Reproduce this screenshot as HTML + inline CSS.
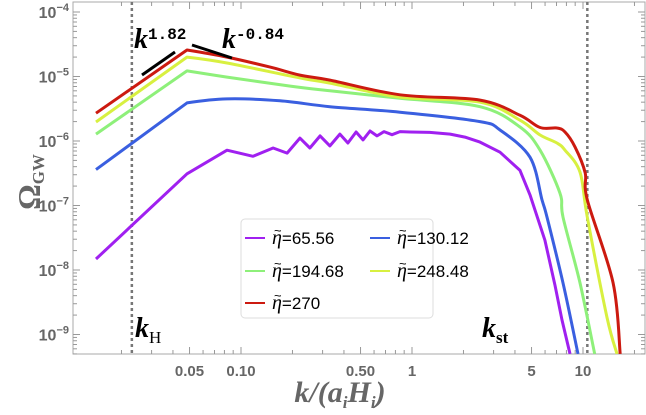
<!DOCTYPE html>
<html><head><meta charset="utf-8"><style>
body{margin:0;background:#fff}
svg{display:block}
</style></head><body>
<svg id="chart" width="646" height="415" xmlns="http://www.w3.org/2000/svg" font-family="Liberation Sans, sans-serif">
<rect width="646" height="415" fill="#fff"/>
<g id="axes"></g>
<g id="series"></g>
<g id="annot"></g>
</svg>
<script>
const xTickValues=[0.05,0.1,0.5,1,5,10];
const xTickLabels=["0.05","0.10","0.50","1","5","10"];
const yTickExps=[-4,-5,-6,-7,-8,-9];
const seriesNames=["η=65.56","η=130.12","η=194.68","η=248.48","η=270"];
const seriesColors=["#a020f0","#3a5fe0","#8ef07a","#d8f040","#cc1a10"];
const kPurple=[0.0142,0.0483,0.0828,0.1175,0.154,0.186,0.221,0.253,0.290,0.331,0.379,0.422,0.471,0.517,0.568,0.624,0.686,0.764,0.851,0.973,1.27,1.67,2.04,2.50,3.27,4.28,4.90,5.99,6.86,7.54,8.39];
const omegaPurple=[1.48e-8,3.1e-7,7.2e-7,5.8e-7,7.8e-7,6.5e-7,1.11e-6,7.8e-7,1.20e-6,8.4e-7,1.28e-6,9.3e-7,1.38e-6,1.04e-6,1.43e-6,1.2e-6,1.4e-6,1.25e-6,1.4e-6,1.38e-6,1.36e-6,1.28e-6,1.15e-6,9.6e-7,6.7e-7,3.5e-7,1.46e-7,2.9e-8,5.8e-9,1.68e-9,5.0e-10];
const kBlue=[0.0142,0.0483,0.0828,0.169,0.331,0.851,2.50,3.27,4.90,5.76,6.16,7.64,9.35];
const omegaBlue=[3.6e-7,3.9e-6,4.5e-6,4.2e-6,3.4e-6,2.8e-6,2.0e-6,1.48e-6,5.6e-7,1.22e-7,6.6e-8,6.3e-9,5.0e-10];
const kGreen=[0.0142,0.0483,0.0828,0.194,0.331,0.851,2.50,4.28,5.61,7.33,7.64,9.60,11.7];
const omegaGreen=[1.28e-6,1.22e-5,9.8e-6,7.1e-6,6.0e-6,4.6e-6,3.4e-6,1.65e-6,7.2e-7,1.56e-7,6.6e-8,6.3e-9,5.0e-10];
const kYellow=[0.0142,0.0483,0.0828,0.221,0.331,0.851,2.50,4.28,5.61,7.04,7.85,9.60,10.6,13.8,15.8];
const omegaYellow=[1.97e-6,2.0e-5,1.62e-5,9.5e-6,7.9e-6,4.8e-6,4.0e-6,2.1e-6,1.24e-6,9.3e-7,7.2e-7,3.3e-7,6.6e-8,1.87e-9,5.0e-10];
const kRed=[0.0142,0.0483,0.0828,0.148,0.221,0.331,0.851,2.50,4.28,5.61,7.04,7.85,8.98,10.3,10.6,15.0,16.5];
const omegaRed=[2.7e-6,2.58e-5,2.0e-5,1.4e-5,1.05e-5,8.8e-6,5.2e-6,4.3e-6,2.5e-6,1.62e-6,1.59e-6,1.38e-6,8.1e-7,3.2e-7,1.22e-7,6.3e-9,5.0e-10];
const kH=0.023, kSt=10.6;

const NS="http://www.w3.org/2000/svg";
const L=73,R=645,T=2,B=354;
function xs(k){return 412+171*Math.log10(k);}
function ys(v){return 12-64.5*(Math.log10(v)+4);}
function mk(tag,attrs,parent){const e=document.createElementNS(NS,tag);for(const a in attrs)e.setAttribute(a,attrs[a]);parent.appendChild(e);return e;}
const axes=document.getElementById('axes');
const ser=document.getElementById('series');
const ann=document.getElementById('annot');

const defs=mk('defs',{},axes);
const cp=mk('clipPath',{id:'plotclip'},defs);
mk('rect',{x:L,y:T,width:R-L,height:B-T},cp);

const frame=mk('rect',{x:L,y:T,width:R-L,height:B-T,fill:'none',stroke:'#aaa','stroke-width':1},axes);



for(let d=-2;d<=1;d++){for(let m=1;m<=9;m++){const k=m*Math.pow(10,d);const x=xs(k);if(x<L||x>R)continue;
 const major=(m===1||m===5);
 const t=mk('line',{x1:x,x2:x,y1:B,y2:B-(major?7:4),stroke:'#999','stroke-width':1},axes);
 
 
 mk('line',{x1:x,x2:x,y1:T,y2:T+(major?7:4),stroke:'#999','stroke-width':1},axes);}}
xTickValues.forEach((v,i)=>{const t=mk('text',{x:xs(v),y:B+22,'text-anchor':'middle','font-size':15,'font-weight':'bold',fill:'#666'},axes);t.textContent=xTickLabels[i];
 
 });
for(let e=-10;e<=-4;e++){for(let m=1;m<=9;m++){const v=m*Math.pow(10,e);const y=ys(v);if(y<T||y>B)continue;
 const major=m===1;
 const t=mk('line',{x1:L,x2:L+(major?7:4),y1:y,y2:y,stroke:'#999','stroke-width':1},axes);
 
 
 mk('line',{x1:R,x2:R-(major?7:4),y1:y,y2:y,stroke:'#999','stroke-width':1},axes);}}
yTickExps.forEach(e=>{const t=mk('text',{x:L-4,y:ys(Math.pow(10,e))+6,'text-anchor':'end','font-size':16,'font-weight':'bold',fill:'#666'},axes);
 
 
 const a=mk('tspan',{},t);a.textContent='10';const b=mk('tspan',{dy:-7,'font-size':11},t);b.textContent='−'+(-e);});

[kH,kSt].forEach((k,i)=>{const l=mk('line',{x1:xs(k),x2:xs(k),y1:T,y2:B,stroke:'#777','stroke-width':2.5,'stroke-dasharray':'3,3'},axes);
 
 });

function smoothPath(P){let d='M'+P[0][0].toFixed(1)+','+P[0][1].toFixed(1);
 for(let i=0;i<P.length-1;i++){const p0=P[Math.max(0,i-1)],p1=P[i],p2=P[i+1],p3=P[Math.min(P.length-1,i+2)];
  const s=(i===0||i===1)?0:1/6; // keep sharp peak
  const c1=[p1[0]+(p2[0]-p0[0])*s,p1[1]+(p2[1]-p0[1])*s];
  const c2=[p2[0]-(p3[0]-p1[0])*(i===0?0:1/6),p2[1]-(p3[1]-p1[1])*(i===0?0:1/6)];
  d+=' C'+c1[0].toFixed(1)+','+c1[1].toFixed(1)+' '+c2[0].toFixed(1)+','+c2[1].toFixed(1)+' '+p2[0].toFixed(1)+','+p2[1].toFixed(1);}
 return d;}
const allK=[kPurple,kBlue,kGreen,kYellow,kRed];
const allO=[omegaPurple,omegaBlue,omegaGreen,omegaYellow,omegaRed];
const sNames=['series-eta-65','series-eta-130','series-eta-194','series-eta-248','series-eta-270'];
allK.forEach((ks,i)=>{const P=ks.map((k,j)=>[xs(k),ys(allO[i][j])]);
 let p;
 if(i===0){p=mk('polyline',{points:P.map(q=>q[0].toFixed(1)+','+q[1].toFixed(1)).join(' '),fill:'none',stroke:seriesColors[i],'stroke-width':3,'stroke-linejoin':'round','clip-path':'url(#plotclip)'},ser);}
 else{p=mk('path',{d:smoothPath(P),fill:'none',stroke:seriesColors[i],'stroke-width':3,'stroke-linejoin':'round','clip-path':'url(#plotclip)'},ser);}
 
 });

const lg=mk('g',{},ann);


mk('rect',{x:241,y:219,width:192,height:99,rx:4,fill:'#fff','fill-opacity':0.9,stroke:'#ddd'},lg);
const pos=[[245,238],[370,238],[245,271],[370,271],[245,303]];
seriesNames.forEach((n,i)=>{const [x,y]=pos[i];
 const ln=mk('line',{x1:x,x2:x+20,y1:y,y2:y,stroke:seriesColors[i],'stroke-width':2},lg);
 
 
 const t=mk('text',{x:x+27,y:y+6,'font-size':17,fill:'#000'},lg);
 
 
 const a=mk('tspan',{'font-family':'Liberation Serif, serif','font-style':'italic','font-size':20},t);a.textContent='η';
 const b=mk('tspan',{},t);b.textContent=n.slice(1);
 const tl=mk('text',{x:x+29,y:y-3,'font-size':13,fill:'#000','font-family':'Liberation Sans, sans-serif'},lg);tl.textContent='~';
 
 });
</script>
<svg style="position:absolute;left:0;top:0" width="646" height="415" xmlns="http://www.w3.org/2000/svg">
<text transform="translate(40,182) rotate(-90)" text-anchor="middle" font-family="Liberation Serif, serif" font-weight="bold" font-size="32" fill="#666">Ω<tspan font-size="17" dy="4">GW</tspan></text>
<text x="340" y="402" text-anchor="middle" font-family="Liberation Serif, serif" font-weight="bold" font-style="italic" font-size="30" fill="#666">k/(a<tspan font-size="17" dy="6">i</tspan><tspan dy="-6">H</tspan><tspan font-size="17" dy="6">i</tspan><tspan dy="-6">)</tspan></text>
<text x="134" y="48" font-family="Liberation Serif, serif" font-weight="bold" font-style="italic" font-size="28" fill="#000">k<tspan font-family="Liberation Mono, monospace" font-style="normal" font-size="16" dy="-9">1.82</tspan></text>
<text x="222" y="48" font-family="Liberation Serif, serif" font-weight="bold" font-style="italic" font-size="28" fill="#000">k<tspan font-family="Liberation Mono, monospace" font-style="normal" font-size="16" dy="-9">-0.84</tspan></text>
<line x1="142" y1="75" x2="175" y2="52" stroke="#000" stroke-width="3"/>
<line x1="192" y1="45" x2="232" y2="58" stroke="#000" stroke-width="3"/>
<text x="135" y="337" font-family="Liberation Serif, serif" font-weight="bold" font-style="italic" font-size="28" fill="#000">k<tspan font-style="normal" font-weight="normal" font-size="17" dy="6">H</tspan></text>
<text x="482" y="337" font-family="Liberation Serif, serif" font-weight="bold" font-style="italic" font-size="28" fill="#000">k<tspan font-style="normal" font-size="17" dy="6">st</tspan></text>
</svg>
</body></html>
